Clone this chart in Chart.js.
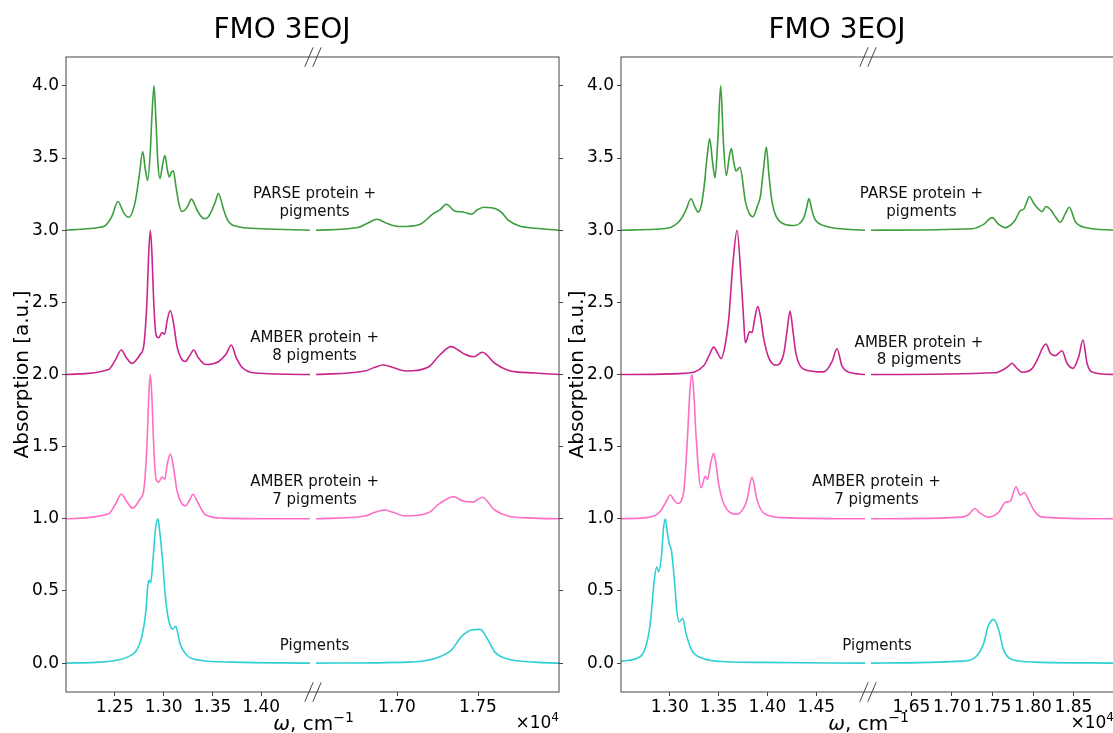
<!DOCTYPE html>
<html>
<head>
<meta charset="utf-8">
<script src="https://cdn.jsdelivr.net/npm/chart.js@4.4.1/dist/chart.umd.min.js"></script>
<style>
  html, body { margin: 0; padding: 0; background: #fff; overflow: hidden; }
  body { width: 1113px; height: 733px; position: relative; }
  canvas { position: absolute; top: 0; }
  #left { left: 0; }
  #right { left: 555px; }
</style>
</head>
<body>
<canvas id="left" width="604" height="733"></canvas>
<canvas id="right" width="618" height="733"></canvas>
<script>
// x values in units of 10^4 cm^-1, absorption offset by 3 / 2 / 1 / 0 per curve

const seriesNames = ['PARSE protein + pigments', 'AMBER protein + 8 pigments', 'AMBER protein + 7 pigments', 'Pigments'];
const labelLines = [['PARSE protein +', 'pigments'], ['AMBER protein +', '8 pigments'], ['AMBER protein +', '7 pigments'], ['Pigments']];

const yTicks = [0, 0.5, 1, 1.5, 2, 2.5, 3, 3.5, 4];
const leftLowTicks = [1.25, 1.30, 1.35, 1.40];
const leftHighTicks = [1.70, 1.75];
const rightLowTicks = [1.30, 1.35, 1.40, 1.45];
const rightHighTicks = [1.65, 1.70, 1.75, 1.80, 1.85];

const leftLowRange = [1.20, 1.45];
const leftHighRange = [1.65, 1.80];
const rightLowRange = [1.25, 1.50];
const rightHighRange = [1.60, 1.90];

// ---- left panel ----
const leftParseLow = [[1.2000,3.000],[1.2348,3.020],[1.2403,3.032],[1.2471,3.098],[1.2533,3.199],[1.2591,3.120],[1.2642,3.090],[1.2710,3.200],[1.2751,3.380],[1.2786,3.544],[1.2813,3.420],[1.2837,3.345],[1.2864,3.550],[1.2881,3.800],[1.2902,4.000],[1.2922,3.750],[1.2943,3.450],[1.2963,3.358],[1.2991,3.460],[1.3014,3.517],[1.3038,3.420],[1.3059,3.369],[1.3079,3.400],[1.3100,3.411],[1.3127,3.300],[1.3155,3.190],[1.3184,3.130],[1.3219,3.140],[1.3250,3.170],[1.3285,3.215],[1.3311,3.190],[1.3342,3.140],[1.3414,3.080],[1.3455,3.090],[1.3496,3.140],[1.3532,3.200],[1.3561,3.254],[1.3588,3.210],[1.3616,3.140],[1.3667,3.058],[1.3769,3.024],[1.4008,3.010],[1.4500,3.000]];
const leftParseHigh = [[1.6500,3.000],[1.6759,3.018],[1.6821,3.050],[1.6877,3.076],[1.6932,3.050],[1.7017,3.025],[1.7140,3.040],[1.7222,3.113],[1.7265,3.140],[1.7304,3.180],[1.7356,3.133],[1.7407,3.126],[1.7459,3.110],[1.7494,3.140],[1.7537,3.159],[1.7613,3.147],[1.7648,3.120],[1.7685,3.071],[1.7747,3.032],[1.7891,3.010],[1.8000,3.000]];
const leftAmber8Low = [[1.2000,2.000],[1.2437,2.035],[1.2505,2.100],[1.2567,2.170],[1.2615,2.120],[1.2676,2.077],[1.2761,2.140],[1.2796,2.196],[1.2830,2.515],[1.2847,2.833],[1.2864,3.000],[1.2881,2.830],[1.2898,2.515],[1.2922,2.276],[1.2950,2.255],[1.2984,2.290],[1.3011,2.280],[1.3038,2.380],[1.3069,2.443],[1.3103,2.350],[1.3137,2.196],[1.3181,2.110],[1.3222,2.090],[1.3267,2.130],[1.3308,2.170],[1.3352,2.120],[1.3434,2.069],[1.3564,2.090],[1.3639,2.140],[1.3694,2.204],[1.3742,2.120],[1.3803,2.050],[1.3940,2.010],[1.4500,2.000]];
const leftAmber8High = [[1.6500,2.000],[1.6801,2.024],[1.6864,2.050],[1.6914,2.066],[1.6969,2.050],[1.7057,2.024],[1.7191,2.050],[1.7264,2.135],[1.7335,2.193],[1.7377,2.170],[1.7418,2.140],[1.7473,2.123],[1.7527,2.154],[1.7603,2.078],[1.7685,2.030],[1.7852,2.010],[1.8000,2.000]];
const leftAmber7Low = [[1.2000,1.000],[1.2437,1.035],[1.2505,1.100],[1.2567,1.170],[1.2622,1.120],[1.2683,1.074],[1.2761,1.140],[1.2796,1.196],[1.2830,1.515],[1.2847,1.833],[1.2864,2.000],[1.2881,1.830],[1.2898,1.515],[1.2922,1.276],[1.2950,1.255],[1.2984,1.290],[1.3011,1.274],[1.3038,1.380],[1.3069,1.448],[1.3103,1.350],[1.3137,1.196],[1.3181,1.110],[1.3222,1.090],[1.3267,1.130],[1.3301,1.170],[1.3345,1.120],[1.3427,1.030],[1.3598,1.005],[1.4500,1.000]];
const leftAmber7High = [[1.6500,1.000],[1.6801,1.020],[1.6864,1.045],[1.6920,1.061],[1.6975,1.045],[1.7048,1.020],[1.7191,1.040],[1.7264,1.107],[1.7350,1.153],[1.7407,1.123],[1.7469,1.116],[1.7525,1.149],[1.7603,1.061],[1.7685,1.020],[1.7852,1.005],[1.8000,1.000]];
const leftPigmentsLow = [[1.2000,0.000],[1.2348,0.007],[1.2519,0.020],[1.2622,0.040],[1.2724,0.090],[1.2776,0.180],[1.2820,0.367],[1.2837,0.530],[1.2850,0.575],[1.2868,0.557],[1.2891,0.714],[1.2917,0.930],[1.2943,1.000],[1.2957,0.930],[1.2972,0.840],[1.2991,0.700],[1.3017,0.470],[1.3040,0.340],[1.3066,0.263],[1.3093,0.236],[1.3124,0.256],[1.3148,0.200],[1.3168,0.136],[1.3237,0.055],[1.3373,0.020],[1.3711,0.007],[1.4500,0.000]];
const leftPigmentsHigh = [[1.6500,0.000],[1.7068,0.007],[1.7233,0.032],[1.7335,0.090],[1.7397,0.182],[1.7459,0.229],[1.7514,0.234],[1.7562,0.160],[1.7603,0.078],[1.7685,0.028],[1.7852,0.007],[1.8000,0.000]];

// ---- right panel ----
const rightParseLow = [[1.2500,3.000],[1.2971,3.013],[1.3108,3.070],[1.3166,3.140],[1.3217,3.218],[1.3258,3.160],[1.3289,3.125],[1.3325,3.180],[1.3353,3.310],[1.3381,3.500],[1.3409,3.634],[1.3437,3.480],[1.3463,3.363],[1.3494,3.650],[1.3521,4.000],[1.3550,3.600],[1.3579,3.377],[1.3607,3.500],[1.3630,3.565],[1.3658,3.460],[1.3678,3.410],[1.3719,3.435],[1.3774,3.200],[1.3812,3.120],[1.3852,3.093],[1.3899,3.170],[1.3927,3.230],[1.3960,3.420],[1.3989,3.576],[1.4016,3.380],[1.4047,3.200],[1.4132,3.058],[1.4269,3.032],[1.4372,3.085],[1.4400,3.150],[1.4426,3.220],[1.4452,3.150],[1.4480,3.085],[1.4577,3.032],[1.4849,3.005],[1.5000,3.000]];
const rightParseHigh = [[1.6000,3.000],[1.7247,3.010],[1.7391,3.040],[1.7494,3.087],[1.7577,3.040],[1.7658,3.018],[1.7781,3.071],[1.7843,3.136],[1.7885,3.145],[1.7920,3.190],[1.7954,3.233],[1.8009,3.187],[1.8062,3.150],[1.8111,3.129],[1.8160,3.164],[1.8226,3.136],[1.8275,3.094],[1.8337,3.055],[1.8395,3.110],[1.8448,3.159],[1.8522,3.060],[1.8646,3.018],[1.9000,3.000]];
const rightAmber8Low = [[1.2500,2.000],[1.3142,2.008],[1.3347,2.060],[1.3402,2.130],[1.3450,2.190],[1.3489,2.150],[1.3525,2.110],[1.3566,2.200],[1.3603,2.380],[1.3648,2.780],[1.3689,3.000],[1.3730,2.670],[1.3755,2.400],[1.3774,2.220],[1.3819,2.297],[1.3842,2.290],[1.3873,2.400],[1.3901,2.470],[1.3929,2.400],[1.3962,2.250],[1.4013,2.117],[1.4091,2.064],[1.4167,2.143],[1.4201,2.300],[1.4232,2.440],[1.4262,2.300],[1.4293,2.143],[1.4372,2.037],[1.4577,2.018],[1.4662,2.090],[1.4713,2.178],[1.4764,2.060],[1.4849,2.013],[1.5000,2.000]];
const rightAmber8High = [[1.6000,2.000],[1.7535,2.012],[1.7638,2.035],[1.7700,2.060],[1.7741,2.078],[1.7790,2.050],[1.7864,2.016],[1.7988,2.041],[1.8070,2.123],[1.8123,2.190],[1.8160,2.211],[1.8214,2.147],[1.8275,2.131],[1.8358,2.165],[1.8420,2.078],[1.8494,2.043],[1.8564,2.123],[1.8617,2.239],[1.8667,2.078],[1.8728,2.018],[1.9000,2.000]];
const rightAmber7Low = [[1.2500,1.000],[1.2800,1.013],[1.2903,1.053],[1.2956,1.110],[1.3005,1.165],[1.3043,1.130],[1.3081,1.106],[1.3142,1.186],[1.3183,1.586],[1.3207,1.900],[1.3227,2.000],[1.3248,1.850],[1.3268,1.586],[1.3320,1.215],[1.3364,1.294],[1.3388,1.273],[1.3417,1.380],[1.3450,1.454],[1.3473,1.380],[1.3501,1.240],[1.3552,1.106],[1.3689,1.032],[1.3760,1.080],[1.3791,1.133],[1.3842,1.287],[1.3893,1.133],[1.3962,1.040],[1.4167,1.008],[1.5000,1.000]];
const rightAmber7High = [[1.6000,1.000],[1.7123,1.012],[1.7206,1.030],[1.7280,1.072],[1.7346,1.040],[1.7453,1.012],[1.7577,1.046],[1.7658,1.114],[1.7720,1.123],[1.7790,1.222],[1.7843,1.165],[1.7893,1.181],[1.7947,1.130],[1.8009,1.061],[1.8111,1.012],[1.9000,1.000]];
const rightPigmentsLow = [[1.2500,0.014],[1.2695,0.044],[1.2763,0.136],[1.2804,0.298],[1.2841,0.575],[1.2866,0.668],[1.2886,0.633],[1.2917,0.760],[1.2935,0.930],[1.2954,1.000],[1.2976,0.900],[1.2997,0.820],[1.3017,0.780],[1.3033,0.680],[1.3053,0.529],[1.3071,0.367],[1.3097,0.286],[1.3132,0.310],[1.3166,0.206],[1.3224,0.090],[1.3343,0.032],[1.3583,0.010],[1.3924,0.005],[1.5000,0.000]];
const rightPigmentsHigh = [[1.6000,0.000],[1.7123,0.014],[1.7288,0.040],[1.7391,0.136],[1.7444,0.252],[1.7515,0.303],[1.7577,0.229],[1.7638,0.090],[1.7741,0.025],[1.8028,0.007],[1.9000,0.000]];

const seriesColors = ['#3c9e3c', '#c9268c', '#ff6ec4', '#2fd0d4'];
const frameColor = '#444';
const fontFamily = '"DejaVu Sans", sans-serif';
Chart.defaults.font.family = fontFamily;

function toXY(arr) {
  return arr.map(p => ({ x: p[0], y: p[1] }));
}

const framePlugin = {
  id: 'frame',
  afterDraw(chart) {
    const { ctx, chartArea: a, scales } = chart;
    ctx.save();
    ctx.strokeStyle = frameColor;
    ctx.lineWidth = 1;
    ctx.strokeRect(a.left, a.top, a.right - a.left, a.bottom - a.top);
    const g = scales.xGap;
    const c = (g.left + g.right) / 2;
    [a.top, a.bottom].forEach(yy => {
      [-4, 4].forEach(off => {
        ctx.beginPath();
        ctx.moveTo(c + off - 4.2, yy + 9.7);
        ctx.lineTo(c + off + 4.2, yy - 9.7);
        ctx.stroke();
      });
    });
    ctx.restore();
  }
};

function makeTextPlugin(labelPos) {
  return {
    id: 'panelText',
    afterDraw(chart) {
      const { ctx, chartArea: a, scales } = chart;
      ctx.save();
      ctx.fillStyle = '#111';
      ctx.textAlign = 'center';
      ctx.textBaseline = 'alphabetic';
      ctx.font = '15px ' + fontFamily;
      labelPos.forEach((p, i) => {
        const x = scales.xHigh.getPixelForValue(p.x);
        const y = scales.y.getPixelForValue(p.y);
        labelLines[i].forEach((t, k) => ctx.fillText(t, x, y + k * 17.5));
      });

      // x axis label: omega, cm^-1
      ctx.fillStyle = '#000';
      ctx.textAlign = 'left';
      const base = 730;
      ctx.font = 'italic 20px ' + fontFamily;
      const w1 = ctx.measureText('\u03c9').width;
      ctx.font = '20px ' + fontFamily;
      const w2 = ctx.measureText(', cm').width;
      ctx.font = '14px ' + fontFamily;
      const w3 = ctx.measureText('\u22121').width;
      let x = (a.left + a.right) / 2 + 1 - (w1 + w2 + w3) / 2;
      ctx.font = 'italic 20px ' + fontFamily;
      ctx.fillText('\u03c9', x, base);
      x += w1;
      ctx.font = '20px ' + fontFamily;
      ctx.fillText(', cm', x, base);
      x += w2;
      ctx.font = '14px ' + fontFamily;
      ctx.fillText('\u22121', x, base - 8);

      // offset text x10^4
      ctx.font = '12px ' + fontFamily;
      const s4 = ctx.measureText('4').width;
      ctx.font = '17px ' + fontFamily;
      const sx = ctx.measureText('\u00d710').width;
      let ox = a.right - s4 - sx;
      ctx.fillText('\u00d710', ox, 728);
      ctx.font = '12px ' + fontFamily;
      ctx.fillText('4', ox + sx, 728 - 7);
      ctx.restore();
    }
  };
}

function buildPanel(canvasId, cfg) {
  const ctx = document.getElementById(canvasId).getContext('2d');
  const datasets = [];
  cfg.series.forEach((s, i) => {
    [['xLow', s[0]], ['xHigh', s[1]]].forEach(([axis, arr]) => {
      datasets.push({
        label: seriesNames[i],
        xAxisID: axis,
        yAxisID: 'y',
        data: toXY(arr),
        borderColor: seriesColors[i],
        borderWidth: 1.6,
        pointRadius: 0,
        fill: false,
        cubicInterpolationMode: 'monotone'
      });
    });
  });

  const xAxis = (range, ticks, weight) => ({
    type: 'linear',
    position: 'bottom',
    stack: 'xs',
    stackWeight: weight,
    min: range[0],
    max: range[1],
    bounds: 'data',
    afterBuildTicks: sc => { sc.ticks = ticks.map(v => ({ value: v })); },
    afterFit: sc => { sc.height = 41; sc.paddingLeft = 0; sc.paddingRight = 0; },
    ticks: {
      color: '#000', font: { size: 17 }, padding: 1,
      maxRotation: 0, minRotation: 0, autoSkip: false,
      callback: v => Number(v).toFixed(2)
    },
    grid: { drawOnChartArea: false, drawTicks: true, tickLength: 4, color: frameColor },
    border: { display: false }
  });

  return new Chart(ctx, {
    type: 'line',
    data: { datasets },
    options: {
      responsive: false,
      animation: false,
      events: [],
      layout: { padding: { left: 0, right: cfg.padRight, top: 0, bottom: 0 } },
      plugins: {
        legend: { display: false },
        tooltip: { enabled: false },
        title: {
          display: true,
          text: 'FMO 3EOJ',
          color: '#000',
          font: { size: 28, weight: 'normal' },
          padding: { top: 14, bottom: 9.4 }
        }
      },
      scales: {
        y: {
          type: 'linear',
          position: 'left',
          min: -0.2,
          max: 4.2,
          bounds: 'data',
          afterBuildTicks: sc => { sc.ticks = yTicks.map(v => ({ value: v })); },
          afterFit: sc => { sc.width = 66; sc.paddingTop = 0; sc.paddingBottom = 0; },
          ticks: { color: '#000', font: { size: 17 }, padding: 3, callback: v => Number(v).toFixed(1) },
          grid: { drawOnChartArea: false, drawTicks: true, tickLength: 4, color: frameColor },
          border: { display: false },
          title: { display: true, text: 'Absorption [a.u.]', color: '#000', font: { size: 20 }, padding: { top: 10.5, bottom: 0 } }
        },
        yr: {
          type: 'linear',
          position: 'right',
          min: -0.2,
          max: 4.2,
          bounds: 'data',
          afterBuildTicks: sc => { sc.ticks = yTicks.map(v => ({ value: v })); },
          afterFit: sc => { sc.width = 5; sc.paddingTop = 0; sc.paddingBottom = 0; },
          ticks: { display: false },
          grid: { drawOnChartArea: false, drawTicks: true, tickLength: 4, color: frameColor },
          border: { display: false }
        },
        xLow: xAxis(cfg.lowRange, cfg.lowTicks, 244),
        xGap: {
          type: 'linear',
          position: 'bottom',
          stack: 'xs',
          stackWeight: 6,
          min: 0,
          max: 1,
          ticks: { display: false },
          grid: { display: false },
          border: { display: false },
          afterFit: sc => { sc.height = 41; sc.paddingLeft = 0; sc.paddingRight = 0; }
        },
        xHigh: xAxis(cfg.highRange, cfg.highTicks, 243)
      }
    },
    plugins: [framePlugin, makeTextPlugin(cfg.labelPos)]
  });
}

buildPanel('left', {
  padRight: 604 - 564,
  lowRange: leftLowRange,
  highRange: leftHighRange,
  lowTicks: leftLowTicks,
  highTicks: leftHighTicks,
  series: [
    [leftParseLow, leftParseHigh],
    [leftAmber8Low, leftAmber8High],
    [leftAmber7Low, leftAmber7High],
    [leftPigmentsLow, leftPigmentsHigh]
  ],
  labelPos: [
    { x: 1.6491, y: 3.220 },
    { x: 1.6491, y: 2.225 },
    { x: 1.6491, y: 1.224 },
    { x: 1.6491, y: 0.090 }
  ]
});

buildPanel('right', {
  padRight: 618 - 564,
  lowRange: rightLowRange,
  highRange: rightHighRange,
  lowTicks: rightLowTicks,
  highTicks: rightHighTicks,
  series: [
    [rightParseLow, rightParseHigh],
    [rightAmber8Low, rightAmber8High],
    [rightAmber7Low, rightAmber7High],
    [rightPigmentsLow, rightPigmentsHigh]
  ],
  labelPos: [
    { x: 1.6623, y: 3.220 },
    { x: 1.6593, y: 2.194 },
    { x: 1.6068, y: 1.224 },
    { x: 1.6074, y: 0.090 }
  ]
});
</script>
</body>
</html>
